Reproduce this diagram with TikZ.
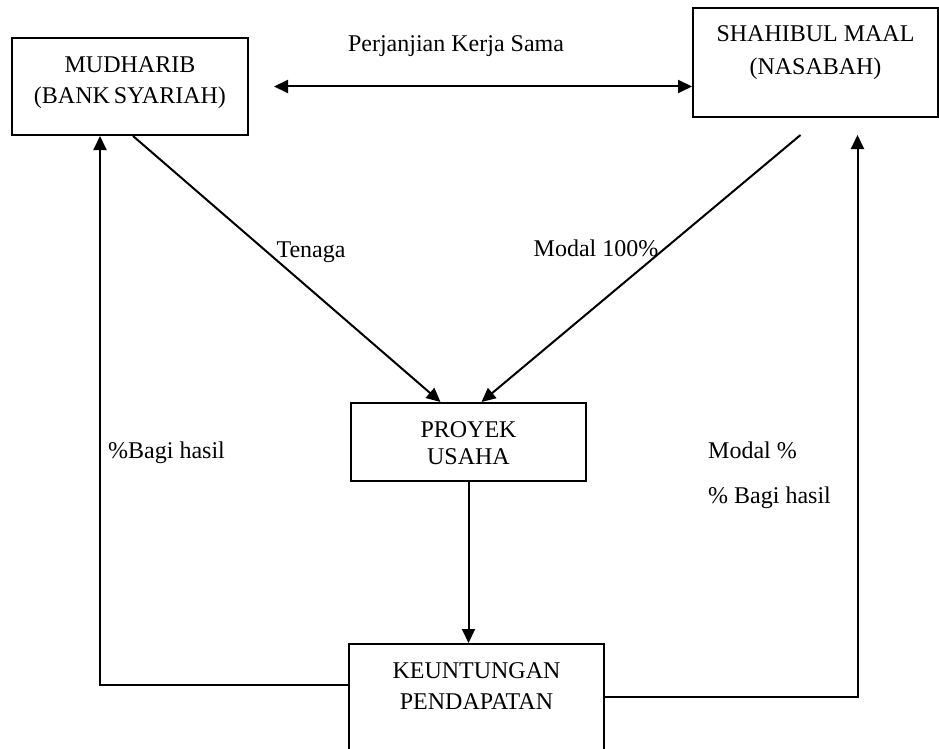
\documentclass[tikz,border=0pt]{standalone}
\usepackage{fontspec}
\setmainfont{Liberation Serif}
\usetikzlibrary{arrows.meta}

\begin{document}
\begin{tikzpicture}[x=1pt,y=-1pt]
    \useasboundingbox (0,0) rectangle (939,749);
    \begin{scope} [box style/.style={draw,
                                    rectangle,
                                    line width=2pt,
                                    align=center,
                                    inner xsep=0pt,
                                    inner ysep=0pt,
                                    anchor=base,
                                    font=\fontsize{24}{31}\selectfont}]
      \node[box style, minimum width=236pt, text height=65pt, text depth=32pt] (mudharib) at (130,103) {MUDHARIB\\(BANK\,SYARIAH)};
      \node[box style, minimum width=245pt, text height=67pt, text depth=42pt] (shahibul) at (815.5,75) {SHAHIBUL MAAL\\[2pt](NASABAH)};
      \node[box style, minimum width=235pt, text height=61pt, text depth=17pt] (proyek) at (468.5,464) {PROYEK\\[-4pt]USAHA};
      \node[box style, minimum width=255pt, text height=65pt, text depth=61pt] (keuntungan) at (476.5,709) {KEUNTUNGAN\\PENDAPATAN};
    \end{scope}

    \begin{scope} [edge style/.style={draw,
                                     line width=2pt,
                                     -{Triangle[length=14pt,width=13pt]}}]
      \draw[edge style, {Triangle[length=14pt,width=13pt]}-{Triangle[length=14pt,width=13pt]}, shorten <=25pt] (mudharib.east) -- (mudharib.east -| shahibul.west);
      \draw[edge style] ([xshift=3pt]mudharib.south) -- ([xshift=-28pt]proyek.north);
      \draw[edge style] ([xshift=-15pt,yshift=-17pt]shahibul.south) -- ([xshift=13pt]proyek.north);
      \draw[edge style] (proyek.south) -- (proyek.south |- keuntungan.north);
      \draw[edge style] ([yshift=22pt]keuntungan.west) -| ([xshift=-30pt]mudharib.south);
      \draw[edge style] ([yshift=10pt]keuntungan.east) -| ([xshift=42pt,yshift=-17pt]shahibul.south);
    \end{scope}

    \begin{scope} [label style/.style={anchor=base,
                                      inner sep=0pt,
                                      font=\fontsize{24}{31}\selectfont}]
      \node[label style] (kerjasama) at (456,52) {Perjanjian Kerja Sama};
      \node[label style] (tenaga) at (311,257) {Tenaga};
      \node[label style] (modalpenuh) at (596,256) {Modal 100\%};
      \node[label style, anchor=base west] (bagihasilkiri) at (108,458) {\%Bagi hasil};
      \node[label style, anchor=base west] (modalpersen) at (708,458) {Modal \%};
      \node[label style, anchor=base west] (bagihasilkanan) at (708,503) {\% Bagi hasil};
    \end{scope}
\end{tikzpicture}
\end{document}
